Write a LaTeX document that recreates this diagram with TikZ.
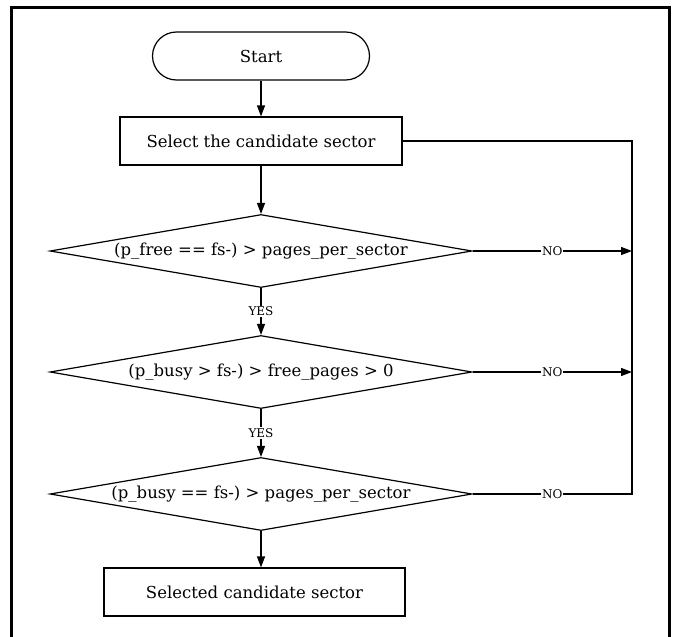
\documentclass[tikz,border=0pt]{standalone}
\usepackage{fontspec}
\setmainfont{DejaVu Serif}
\usetikzlibrary{shapes.geometric,arrows.meta,positioning}

\begin{document}
\begin{tikzpicture}[>={Triangle[length=11pt,width=8pt]},line width=1.2pt,on grid,
    font=\fontsize{16.5}{19}\selectfont,
    terminal/.style={draw,rectangle,rounded corners=24pt,minimum width=217pt,minimum height=48pt},
    process/.style={draw,rectangle,minimum width=282pt,minimum height=48pt},
    decision/.style={draw,diamond,aspect=5.8,inner sep=0pt,minimum width=422pt,minimum height=73pt},
    answer/.style={fill=white,inner sep=1pt,font=\fontsize{12}{14}\selectfont}]
	\useasboundingbox (0,0) rectangle (675pt,-637pt);
	\draw[line width=3pt] (11pt,-7pt) rectangle (669pt,-660pt);

	\node[terminal] (start) at (261pt,-56pt) {Start};
	\node[process] (select) [below=85pt of start] {Select the candidate sector};
	\node[decision] (d_free) [below=110pt of select] {(p\_free == fs-) > pages\_per\_sector};
	\node[decision] (d_busy) [below=121pt of d_free] {(p\_busy > fs-) > free\_pages > 0};
	\node[decision] (d_pages) [below=122pt of d_busy] {(p\_busy == fs-) > pages\_per\_sector};
	\node[process,minimum width=301pt] (selected) [below=98pt of d_pages,xshift=-6.5pt] {Selected candidate sector};
	\coordinate (back) at ([xshift=371pt]select.center);

	\path[->]
	(start) edge (select)
	(select) edge (d_free)
	(d_free) edge node[answer] {YES} (d_busy)
	(d_busy) edge node[answer] {YES} (d_pages)
	(d_free) edge node[answer] {NO} (d_free -| back)
	(d_busy) edge node[answer] {NO} (d_busy -| back);
	\draw (d_pages) -- node[answer] {NO} (d_pages -| back) -- (back) -- (select);
	\draw[->] (d_pages) -- (d_pages.south |- selected.north);
\end{tikzpicture}
\end{document}
